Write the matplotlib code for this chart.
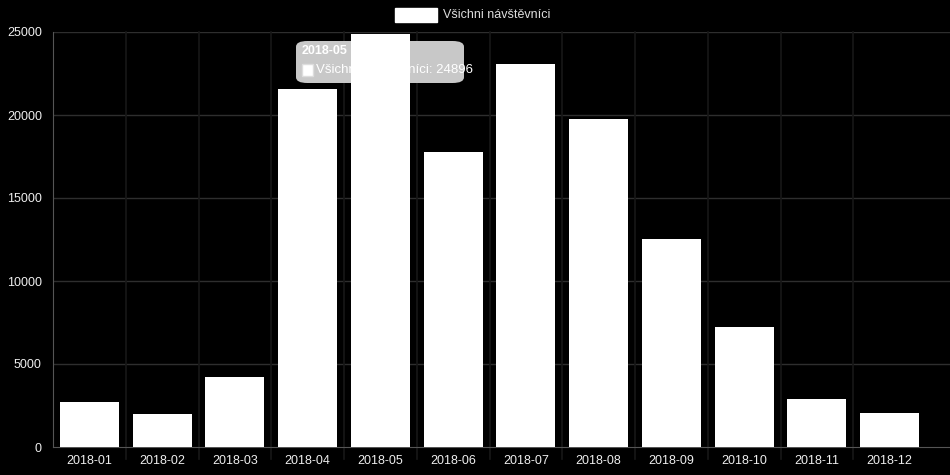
import numpy as np
import matplotlib.pyplot as plt
from matplotlib.patches import FancyBboxPatch, Rectangle

plt.rcParams['font.family'] = ['Liberation Sans', 'DejaVu Sans']

months = ['2018-01', '2018-02', '2018-03', '2018-04', '2018-05', '2018-06',
          '2018-07', '2018-08', '2018-09', '2018-10', '2018-11', '2018-12']
visitors = [2730, 1990, 4240, 21570, 24896, 17770,
            23070, 19760, 12530, 7250, 2890, 2050]
series_name = 'Všichni návštěvníci'
highlight = 4  # tooltip shown for 2018-05

W, H = 950, 475
fig = plt.figure(figsize=(W / 100, H / 100), dpi=100, facecolor='black')
ax = fig.add_axes([53 / W, 28 / H, (W - 53) / W, 415 / H])
ax.set_facecolor('black')

x = np.arange(len(months))
ax.bar(x, visitors, width=0.81, color='white', zorder=3)

# category band of 72.8 px, axis runs a bit further on the right
ax.set_xlim(-0.5, 11.5 + 24 / 72.8)
ax.set_ylim(0, 25000)
ax.set_yticks(np.arange(0, 25001, 5000))
ax.set_xticks(x)
ax.set_xticklabels(months)

for yv in range(5000, 25001, 5000):
    ax.axhline(yv, color='#2e2e2e', lw=1, zorder=1)
for b in np.arange(0.5, 11, 1):
    ax.plot([b, b], [-700, 25000], color='#171717', lw=1.2, zorder=1, clip_on=False)

for s in ['top', 'right']:
    ax.spines[s].set_visible(False)
ax.spines['left'].set_color('#555555')
ax.spines['bottom'].set_color('#555555')
ax.tick_params(axis='both', colors='#eeeeee', labelsize=9, length=0)
ax.tick_params(axis='y', pad=8)
ax.tick_params(axis='x', pad=6)

# legend at top
fig.patches.append(Rectangle((395 / W, (H - 22) / H), 42 / W, 14 / H,
                             transform=fig.transFigure, color='white'))
fig.text(443 / W, (H - 15) / H, series_name, color='#dddddd', fontsize=9,
         va='center', ha='left')

# tooltip (sits behind the bars in the reference)
tip = FancyBboxPatch((296 / W, (H - 83) / H), 168 / W, 42 / H,
                     boxstyle='round,pad=0,rounding_size=0.012',
                     transform=fig.transFigure, facecolor='#c8c8c8',
                     edgecolor='none', zorder=2)
ax.add_artist(tip)
tip.set_clip_on(False)
ax.text(302 / W, (H - 51) / H, months[highlight], transform=fig.transFigure,
        color='white', fontsize=9, fontweight='bold', va='center', zorder=2)
sq = Rectangle((302 / W, (H - 76) / H), 11 / W, 12 / H,
               transform=fig.transFigure, facecolor='white',
               edgecolor='#dddddd', zorder=2)
sq.set_clip_on(False)
ax.add_artist(sq)
ax.text(316 / W, (H - 70) / H, f'{series_name}: {visitors[highlight]}',
        transform=fig.transFigure, color='white', fontsize=9.5,
        va='center', zorder=2)

fig.savefig('out.png', dpi=100, facecolor='black')
